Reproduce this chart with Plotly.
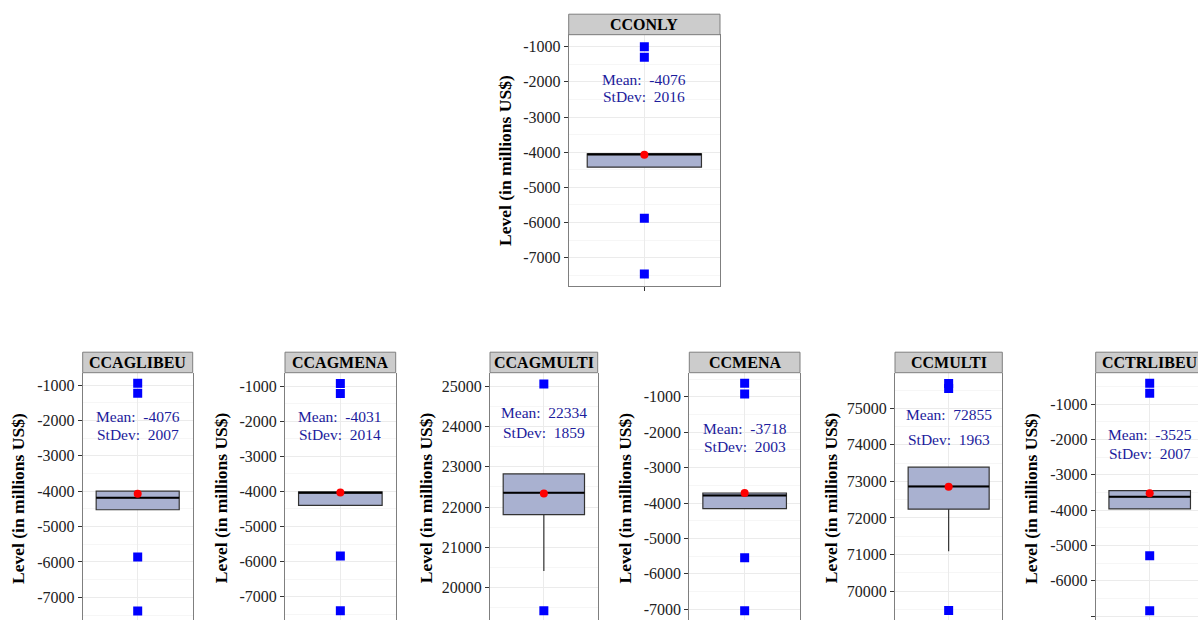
import plotly.graph_objects as go

# panel names, in drawing order (top panel first)
panels = ["CCONLY", "CCAGLIBEU", "CCAGMENA", "CCAGMULTI", "CCMENA", "CCMULTI", "CCTRLIBEU"]

# box statistics
q1 = [-4427, -4525, -4400, 21810, -4160, 72240, -3970]
median = [-4058, -4186, -4040, 22355, -3785, 72863, -3623]
q3 = [-4048, -4000, -4017, 22820, -3718, 73390, -3454]
whisker_lo = [-4427, -4525, -4400, 20414, -4160, 71090, -3970]
whisker_hi = [-4048, -4000, -4017, 22820, -3718, 73390, -3454]
outliers = [
    [-1000, -1302, -5875, -7464],
    [-953, -1236, -5859, -7386],
    [-925, -1210, -5840, -7400],
    [25050, 19430],
    [-621, -924, -5543, -7040],
    [75680, 75540, 69470],
    [-414, -697, -5293, -6850],
]
means = [-4076, -4076, -4031, 22334, -3718, 72855, -3525]
stdevs = [2016, 2007, 2014, 1859, 2003, 1963, 2007]

# where the Mean / StDev labels sit (data units of each panel)
mean_lab_y = [-1927, -1876, -1880, 24338, -1893, 74817, -1877]
sd_lab_y = [-2422, -2385, -2390, 23842, -2412, 74133, -2395]

# layout: panel boxes in pixels (left, right, top, bottom) and y ranges
W, H = 1198, 620
boxes = [
    (568.7, 720.0, 34.7, 285.7),
    (82.7, 192.7, 372.7, 620),
    (285.0, 395.7, 372.7, 620),
    (490.0, 597.7, 372.7, 620),
    (689.3, 800.0, 372.7, 620),
    (895.0, 1002.3, 372.7, 620),
    (1095.7, 1198.0, 372.7, 620),
]
y_ranges = [
    [-7796, -659],
    [-7641, -652],
    [-7663, -621],
    [19199, 25330],
    [-7302, -322],
    [69207, 75974],
    [-7113, -114],
]
strip_h = 20.5
serif = "Liberation Serif"
box_w = 0.755

fig = go.Figure()
annotations = []
shapes = []

for i, name in enumerate(panels):
    k = "" if i == 0 else str(i + 1)
    xa, ya = "x" + k, "y" + k
    left, right, top, bottom = boxes[i]

    fig.add_trace(go.Box(
        x=[0], q1=[q1[i]], median=[median[i]], q3=[q3[i]],
        lowerfence=[whisker_lo[i]], upperfence=[whisker_hi[i]],
        width=box_w, whiskerwidth=0, fillcolor="#A9B1D0",
        line=dict(color="#333333", width=1.2),
        xaxis=xa, yaxis=ya, showlegend=False, hoverinfo="skip"))
    # thicker median bar, like ggplot
    fig.add_trace(go.Scatter(
        x=[-box_w / 2, box_w / 2], y=[median[i], median[i]], mode="lines",
        line=dict(color="black", width=2), xaxis=xa, yaxis=ya,
        showlegend=False, hoverinfo="skip"))
    fig.add_trace(go.Scatter(
        x=[0] * len(outliers[i]), y=outliers[i], mode="markers",
        marker=dict(symbol="square", size=9, color="blue"),
        xaxis=xa, yaxis=ya, showlegend=False))
    fig.add_trace(go.Scatter(
        x=[0], y=[means[i]], mode="markers",
        marker=dict(size=8, color="red"),
        xaxis=xa, yaxis=ya, showlegend=False))

    # last panel is cut by the right edge of the picture
    full_w = 108.0
    x_hi = -0.5 + (right - left) / full_w if i == 6 else 0.5
    is_top = i == 0

    lo_r, hi_r = y_ranges[i]
    tickvals = list(range(int(lo_r // 1000 + 1) * 1000, int(hi_r) + 1, 1000))
    ticktext = [str(v) for v in tickvals]

    fig.update_layout({
        "xaxis" + k: dict(
            domain=[left / W, right / W], range=[-0.5, x_hi], anchor=ya,
            tickvals=[0], showticklabels=False, showgrid=True,
            gridcolor="#EBEBEB", zeroline=False,
            ticks="outside" if is_top else "", ticklen=4, tickcolor="#333333",
            showline=is_top, linecolor="#7F7F7F", mirror=is_top),
        "yaxis" + k: dict(
            domain=[1 - bottom / H, 1 - top / H], range=y_ranges[i], anchor=xa,
            tickmode="array", tickvals=tickvals, ticktext=ticktext,
            ticks="outside", ticklen=4, tickcolor="#333333",
            showgrid=True, gridcolor="#EBEBEB", zeroline=False,
            minor=dict(tickmode="linear", tick0=0, dtick=500, showgrid=True,
                       gridcolor="#F6F6F6", ticks=""),
            showline=True, linecolor="#7F7F7F", mirror=(i != 6),
            tickfont=dict(family=serif, size=16, color="#222222")),
    })

    # strip header
    strip_right = right if i != 6 else left + full_w
    shapes.append(dict(
        type="rect", xref="paper", yref="paper",
        x0=left / W, x1=strip_right / W,
        y0=1 - top / H, y1=1 - (top - strip_h) / H,
        fillcolor="#CCCCCC", line=dict(color="#7F7F7F", width=1), layer="above"))
    annotations.append(dict(
        xref="paper", yref="paper", x=(left + strip_right) / 2 / W,
        y=1 - (top - strip_h / 2) / H, text="<b>" + name + "</b>",
        showarrow=False, xanchor="center", yanchor="middle",
        font=dict(family=serif, size=16, color="black")))

    # y-axis title
    annotations.append(dict(
        xref="paper", yref="paper", x=(left - 64) / W,
        y=1 - ((top + (bottom if i == 0 else top + 251)) / 2) / H,
        text="<b>Level (in millions US$)</b>", textangle=-90,
        showarrow=False, xanchor="center", yanchor="middle",
        font=dict(family=serif, size=17.5, color="black")))

    # mean / stdev labels
    annotations.append(dict(
        xref=xa, yref=ya, x=0, y=mean_lab_y[i],
        text="Mean:\u00a0 " + str(means[i]), showarrow=False,
        font=dict(family=serif, size=15.5, color="#1C1C9C")))
    annotations.append(dict(
        xref=xa, yref=ya, x=0, y=sd_lab_y[i],
        text="StDev:\u00a0 " + str(stdevs[i]), showarrow=False,
        font=dict(family=serif, size=15.5, color="#1C1C9C")))

fig.update_layout(
    width=W, height=H,
    margin=dict(l=0, r=0, t=0, b=0),
    paper_bgcolor="white", plot_bgcolor="white",
    showlegend=False,
    annotations=annotations,
    shapes=shapes,
)

# drop the browser's default page margin so the figure fills the window
fig.write_html("out.html", config={"displayModeBar": False},
               post_script="document.body.style.margin='0px';")
